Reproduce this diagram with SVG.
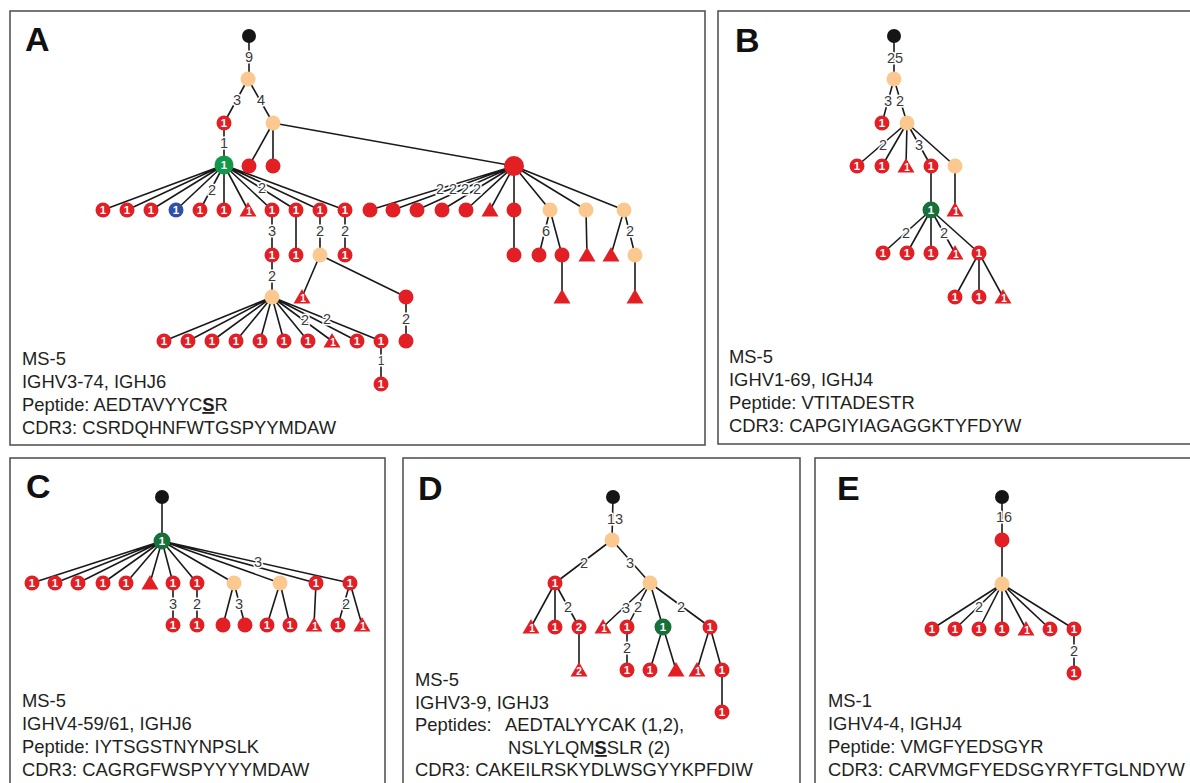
<svg xmlns="http://www.w3.org/2000/svg" xmlns:xlink="http://www.w3.org/1999/xlink" width="1190" height="783" viewBox="0 0 1190 783">
<style>
.frame{fill:none;stroke:#555;stroke-width:1.6}
.e{stroke:#1a1a1a;stroke-width:1.6;fill:none}
.r{fill:#e31f26}
.b{fill:#fbc98f}
.g{fill:#13984a}
.gd{fill:#17703a}
.k{fill:#151515}
.bl{fill:#2f4fa8}
.n{font-family:"Liberation Sans",Arial,sans-serif;font-weight:bold;font-size:11.5px;fill:#fff;text-anchor:middle}
.nt{font-family:"Liberation Sans",Arial,sans-serif;font-weight:bold;font-size:10px;fill:#fff;text-anchor:middle}
.l{font-family:"Liberation Sans",Arial,sans-serif;font-size:14.5px;fill:#3a3a3a;text-anchor:middle;stroke:#fff;stroke-width:3;paint-order:stroke;stroke-linejoin:round}
.t{font-family:"Liberation Sans",Arial,sans-serif;font-size:18.4px;fill:#231f20}
.p{font-family:"Liberation Sans",Arial,sans-serif;font-size:34px;font-weight:bold;fill:#111}
.u{font-weight:bold;text-decoration:underline}
</style>
<defs>
<path id="tri" d="M0,-8 L8.5,6.5 L-8.5,6.5 Z"/>
</defs>
<rect width="1190" height="783" fill="#fff"/>
<g id="frames">
<rect class="frame" x="10" y="11" width="695" height="434"/>
<rect class="frame" x="718" y="11" width="480" height="433"/>
<rect class="frame" x="10" y="458" width="375" height="340"/>
<rect class="frame" x="403" y="458" width="397" height="340"/>
<rect class="frame" x="815" y="458" width="380" height="340"/>
</g>
<g id="connectors">
<!-- A -->
<path class="e" d="M249,36V79 M248,79L224,123 M248,79L273,123 M224,123V165 M273,123L249,166 M273,123V166 M273,123L514,166"/>
<path class="e" d="M224,165L103,210 M224,165L127,210 M224,165L151,210 M224,165L176,210 M224,165L200,210 M224,165V210 M224,165L248,210 M224,165L272,210 M224,165L296,210 M224,165L320,210 M224,165L345,210"/>
<path class="e" d="M272,210V297 M296,210V255 M320,210V255 M345,210V255 M320,255L302,297 M320,255L406,297 M406,297V341 M381,341V384"/>
<path class="e" d="M272,297L164,341 M272,297L188,341 M272,297L212,341 M272,297L236,341 M272,297L260,341 M272,297L284,341 M272,297L308,341 M272,297L332,341 M272,297L357,341 M272,297L381,341"/>
<path class="e" d="M514,166L370,210 M514,166L393,210 M514,166L417,210 M514,166L442,210 M514,166L466,210 M514,166L490,210 M514,166V255 M514,166L550,210 M514,166L586,210 M514,166L624,210"/>
<path class="e" d="M550,210L539,255 M550,210L562,255 M562,255V297 M586,210L587,255 M624,210L611,255 M624,210L635,255 M635,255V297"/>
<!-- B -->
<path class="e" d="M894,36V79 M894,79L882,123 M894,79L907,123 M907,123L857,166 M907,123L882,166 M907,123L906,166 M907,123L931,166 M907,123L955,166 M931,166V210 M955,166V210"/>
<path class="e" d="M931,210L883,253 M931,210L907,253 M931,210V253 M931,210L955,253 M931,210L979,253 M979,253L955,297 M979,253V297 M979,253L1003,297"/>
<!-- C -->
<path class="e" d="M162,497V541 M162,541L32,583 M162,541L55,583 M162,541L78,583 M162,541L103,583 M162,541L126,583 M162,541L150,583 M162,541L173,583 M162,541L197,583 M162,541L234,583 M162,541L280,583 M162,541L316,583 M162,541L350,583"/>
<path class="e" d="M173,583V625 M197,583V625 M234,583L223,625 M234,583L245,625 M280,583L267,625 M280,583L290,625 M316,583L314,625 M350,583L338,625 M350,583L362,625"/>
<!-- D -->
<path class="e" d="M613,497L612,540 M612,540L555,583 M612,540L650,583 M555,583L531,627 M555,583V627 M555,583L579,627 M579,627V670 M650,583L603,627 M650,583L627,627 M650,583L663,627 M650,583L710,627 M627,627V670 M663,627L650,670 M663,627L676,670 M710,627L697,670 M710,627L722,670 M722,670V712"/>
<!-- E -->
<path class="e" d="M1002,497V584 M1002,584L932,629 M1002,584L955,629 M1002,584L979,629 M1002,584V629 M1002,584L1026,629 M1002,584L1050,629 M1002,584L1074,629 M1074,629V673"/>
</g>
<g id="edge-labels">
<text class="l" x="249" y="62">9</text>
<text class="l" x="237" y="105">3</text>
<text class="l" x="261" y="105">4</text>
<text class="l" x="224" y="148">1</text>
<text class="l" x="212" y="195">2</text>
<text class="l" x="262" y="193">2</text>
<text class="l" x="272" y="236">3</text>
<text class="l" x="320" y="236">2</text>
<text class="l" x="345" y="236">2</text>
<text class="l" x="272" y="281">2</text>
<text class="l" x="305" y="325">2</text>
<text class="l" x="327" y="324">2</text>
<text class="l" x="406" y="324">2</text>
<text class="l" x="381" y="365" style="font-size:12px">1</text>
<text class="l" x="440" y="194">2</text>
<text class="l" x="453" y="194">2</text>
<text class="l" x="465" y="194">2</text>
<text class="l" x="477" y="194">2</text>
<text class="l" x="546" y="236">6</text>
<text class="l" x="630" y="236">2</text>
<text class="l" x="895" y="63">25</text>
<text class="l" x="888" y="106">3</text>
<text class="l" x="900" y="106">2</text>
<text class="l" x="883" y="150">2</text>
<text class="l" x="919" y="150">3</text>
<text class="l" x="906" y="238">2</text>
<text class="l" x="944" y="238">2</text>
<text class="l" x="258" y="567">3</text>
<text class="l" x="173" y="609">3</text>
<text class="l" x="197" y="609">2</text>
<text class="l" x="239" y="609">3</text>
<text class="l" x="346" y="609">2</text>
<text class="l" x="615" y="524">13</text>
<text class="l" x="584" y="568">2</text>
<text class="l" x="630" y="568">3</text>
<text class="l" x="568" y="612">2</text>
<text class="l" x="626" y="613">3</text>
<text class="l" x="638" y="612">2</text>
<text class="l" x="681" y="612">2</text>
<text class="l" x="627" y="653">2</text>
<text class="l" x="1004" y="522">16</text>
<text class="l" x="979" y="612">2</text>
<text class="l" x="1074" y="656">2</text>
</g>
<!-- Panel A nodes -->
<g id="panel-A">
<text class="p" x="25" y="51">A</text>
<g id="a-root"><circle class="k" cx="249" cy="36" r="7"/></g>
<g id="a-n1"><circle class="b" cx="248" cy="79" r="7.5"/></g>
<g id="a-n2"><circle class="r" cx="224" cy="123" r="7.5"/><text class="n" x="224" y="127">1</text></g>
<g id="a-n3"><circle class="b" cx="273" cy="123" r="7.5"/></g>
<g id="a-n4"><circle class="g" cx="224" cy="165" r="9.5"/><text class="n" x="224" y="169">1</text></g>
<g id="a-n5"><circle class="r" cx="249" cy="166" r="7.5"/></g>
<g id="a-n6"><circle class="r" cx="273" cy="166" r="7.5"/></g>
<g id="a-n7"><circle class="r" cx="514" cy="166" r="10"/></g>
<g id="a-r1"><circle class="r" cx="103" cy="210" r="7.5"/><text class="n" x="103" y="214">1</text></g>
<g id="a-r2"><circle class="r" cx="127" cy="210" r="7.5"/><text class="n" x="127" y="214">1</text></g>
<g id="a-r3"><circle class="r" cx="151" cy="210" r="7.5"/><text class="n" x="151" y="214">1</text></g>
<g id="a-r4"><circle class="bl" cx="176" cy="210" r="7.5"/><text class="n" x="176" y="214">1</text></g>
<g id="a-r5"><circle class="r" cx="200" cy="210" r="7.5"/><text class="n" x="200" y="214">1</text></g>
<g id="a-r6"><circle class="r" cx="224" cy="210" r="7.5"/><text class="n" x="224" y="214">1</text></g>
<g id="a-r7"><use href="#tri" class="r" x="248" y="210"/><text class="nt" x="249" y="215">1</text></g>
<g id="a-r8"><circle class="r" cx="272" cy="210" r="7.5"/><text class="n" x="272" y="214">1</text></g>
<g id="a-r9"><circle class="r" cx="296" cy="210" r="7.5"/><text class="n" x="296" y="214">1</text></g>
<g id="a-r10"><circle class="r" cx="320" cy="210" r="7.5"/><text class="n" x="320" y="214">1</text></g>
<g id="a-r11"><circle class="r" cx="345" cy="210" r="7.5"/><text class="n" x="345" y="214">1</text></g>
<g id="a-s1"><circle class="r" cx="370" cy="210" r="7.5"/></g>
<g id="a-s2"><circle class="r" cx="393" cy="210" r="7.5"/></g>
<g id="a-s3"><circle class="r" cx="417" cy="210" r="7.5"/></g>
<g id="a-s4"><circle class="r" cx="442" cy="210" r="7.5"/></g>
<g id="a-s5"><circle class="r" cx="466" cy="210" r="7.5"/></g>
<g id="a-s6"><use href="#tri" class="r" x="490" y="210"/></g>
<g id="a-s7"><circle class="r" cx="514" cy="210" r="7.5"/></g>
<g id="a-s8"><circle class="b" cx="550" cy="210" r="7.5"/></g>
<g id="a-s9"><circle class="b" cx="586" cy="210" r="7.5"/></g>
<g id="a-s10"><circle class="b" cx="624" cy="210" r="7.5"/></g>
<g id="a-q1"><circle class="r" cx="272" cy="255" r="7.5"/><text class="n" x="272" y="259">1</text></g>
<g id="a-q2"><circle class="r" cx="296" cy="255" r="7.5"/><text class="n" x="296" y="259">1</text></g>
<g id="a-q3"><circle class="b" cx="320" cy="255" r="7.5"/></g>
<g id="a-q4"><circle class="r" cx="345" cy="255" r="7.5"/><text class="n" x="345" y="259">1</text></g>
<g id="a-q5"><circle class="r" cx="514" cy="255" r="7.5"/></g>
<g id="a-q6"><circle class="r" cx="539" cy="255" r="7.5"/></g>
<g id="a-q7"><circle class="r" cx="562" cy="255" r="7.5"/></g>
<g id="a-q8"><use href="#tri" class="r" x="587" y="255"/></g>
<g id="a-q9"><use href="#tri" class="r" x="611" y="255"/></g>
<g id="a-q10"><circle class="b" cx="635" cy="255" r="7.5"/></g>
<g id="a-w1"><circle class="b" cx="272" cy="297" r="7.5"/></g>
<g id="a-w2"><use href="#tri" class="r" x="302" y="297"/><text class="nt" x="303" y="302">1</text></g>
<g id="a-w3"><circle class="r" cx="406" cy="297" r="7.5"/></g>
<g id="a-w4"><use href="#tri" class="r" x="562" y="297"/></g>
<g id="a-w5"><use href="#tri" class="r" x="635" y="297"/></g>
<g id="a-v1"><circle class="r" cx="164" cy="341" r="7.5"/><text class="n" x="164" y="345">1</text></g>
<g id="a-v2"><circle class="r" cx="188" cy="341" r="7.5"/><text class="n" x="188" y="345">1</text></g>
<g id="a-v3"><circle class="r" cx="212" cy="341" r="7.5"/><text class="n" x="212" y="345">1</text></g>
<g id="a-v4"><circle class="r" cx="236" cy="341" r="7.5"/><text class="n" x="236" y="345">1</text></g>
<g id="a-v5"><circle class="r" cx="260" cy="341" r="7.5"/><text class="n" x="260" y="345">1</text></g>
<g id="a-v6"><circle class="r" cx="284" cy="341" r="7.5"/><text class="n" x="284" y="345">1</text></g>
<g id="a-v7"><circle class="r" cx="308" cy="341" r="7.5"/><text class="n" x="308" y="345">1</text></g>
<g id="a-v8"><use href="#tri" class="r" x="332" y="341"/><text class="nt" x="333" y="346">1</text></g>
<g id="a-v9"><circle class="r" cx="357" cy="341" r="7.5"/><text class="n" x="357" y="345">1</text></g>
<g id="a-v10"><circle class="r" cx="381" cy="341" r="7.5"/><text class="n" x="381" y="345">1</text></g>
<g id="a-v11"><circle class="r" cx="406" cy="341" r="7.5"/></g>
<g id="a-x1"><circle class="r" cx="381" cy="384" r="7.5"/><text class="n" x="381" y="388">1</text></g>
<text class="t" x="22" y="365">MS-5</text>
<text class="t" x="22" y="388">IGHV3-74, IGHJ6</text>
<text class="t" x="22" y="411">Peptide: AEDTAVYYC<tspan class="u">S</tspan>R</text>
<text class="t" x="22" y="434">CDR3: CSRDQHNFWTGSPYYMDAW</text>
</g>
<!-- Panel B -->
<g id="panel-B">
<text class="p" x="735" y="52">B</text>
<g id="b-root"><circle class="k" cx="894" cy="36" r="7"/></g>
<g id="b-n1"><circle class="b" cx="894" cy="79" r="7.5"/></g>
<g id="b-n2"><circle class="r" cx="882" cy="123" r="7.5"/><text class="n" x="882" y="127">1</text></g>
<g id="b-n3"><circle class="b" cx="907" cy="123" r="7.5"/></g>
<g id="b-r1"><circle class="r" cx="857" cy="166" r="7.5"/><text class="n" x="857" y="170">1</text></g>
<g id="b-r2"><circle class="r" cx="882" cy="166" r="7.5"/><text class="n" x="882" y="170">1</text></g>
<g id="b-r3"><use href="#tri" class="r" x="906" y="166"/><text class="nt" x="907" y="171">1</text></g>
<g id="b-r4"><circle class="r" cx="931" cy="166" r="7.5"/><text class="n" x="931" y="170">1</text></g>
<g id="b-r5"><circle class="b" cx="955" cy="166" r="7.5"/></g>
<g id="b-g"><circle class="gd" cx="931" cy="210" r="8.5"/><text class="n" x="931" y="214">1</text></g>
<g id="b-t1"><use href="#tri" class="r" x="955" y="210"/><text class="nt" x="956" y="215">1</text></g>
<g id="b-q1"><circle class="r" cx="883" cy="253" r="7.5"/><text class="n" x="883" y="257">1</text></g>
<g id="b-q2"><circle class="r" cx="907" cy="253" r="7.5"/><text class="n" x="907" y="257">1</text></g>
<g id="b-q3"><circle class="r" cx="931" cy="253" r="7.5"/><text class="n" x="931" y="257">1</text></g>
<g id="b-q4"><use href="#tri" class="r" x="955" y="253"/><text class="nt" x="956" y="258">1</text></g>
<g id="b-q5"><circle class="r" cx="979" cy="253" r="7.5"/><text class="n" x="979" y="257">1</text></g>
<g id="b-w1"><circle class="r" cx="955" cy="297" r="7.5"/><text class="n" x="955" y="301">1</text></g>
<g id="b-w2"><circle class="r" cx="979" cy="297" r="7.5"/><text class="n" x="979" y="301">1</text></g>
<g id="b-w3"><use href="#tri" class="r" x="1003" y="297"/><text class="nt" x="1004" y="302">1</text></g>
<text class="t" x="729" y="363">MS-5</text>
<text class="t" x="729" y="386">IGHV1-69, IGHJ4</text>
<text class="t" x="729" y="409">Peptide: VTITADESTR</text>
<text class="t" x="729" y="432">CDR3: CAPGIYIAGAGGKTYFDYW</text>
</g>
<!-- Panel C -->
<g id="panel-C">
<text class="p" x="26" y="498">C</text>
<g id="c-root"><circle class="k" cx="162" cy="497" r="7"/></g>
<g id="c-g"><circle class="gd" cx="162" cy="541" r="8.5"/><text class="n" x="162" y="545">1</text></g>
<g id="c-r1"><circle class="r" cx="32" cy="583" r="7.5"/><text class="n" x="32" y="587">1</text></g>
<g id="c-r2"><circle class="r" cx="55" cy="583" r="7.5"/><text class="n" x="55" y="587">1</text></g>
<g id="c-r3"><circle class="r" cx="78" cy="583" r="7.5"/><text class="n" x="78" y="587">1</text></g>
<g id="c-r4"><circle class="r" cx="103" cy="583" r="7.5"/><text class="n" x="103" y="587">1</text></g>
<g id="c-r5"><circle class="r" cx="126" cy="583" r="7.5"/><text class="n" x="126" y="587">1</text></g>
<g id="c-r6"><use href="#tri" class="r" x="150" y="583"/></g>
<g id="c-r7"><circle class="r" cx="173" cy="583" r="7.5"/><text class="n" x="173" y="587">1</text></g>
<g id="c-r8"><circle class="r" cx="197" cy="583" r="7.5"/><text class="n" x="197" y="587">1</text></g>
<g id="c-r9"><circle class="b" cx="234" cy="583" r="7.5"/></g>
<g id="c-r10"><circle class="b" cx="280" cy="583" r="7.5"/></g>
<g id="c-r11"><circle class="r" cx="316" cy="583" r="7.5"/><text class="n" x="316" y="587">1</text></g>
<g id="c-r12"><circle class="r" cx="350" cy="583" r="7.5"/><text class="n" x="350" y="587">1</text></g>
<g id="c-q1"><circle class="r" cx="173" cy="625" r="7.5"/><text class="n" x="173" y="629">1</text></g>
<g id="c-q2"><circle class="r" cx="197" cy="625" r="7.5"/><text class="n" x="197" y="629">1</text></g>
<g id="c-q3"><circle class="r" cx="223" cy="625" r="7.5"/></g>
<g id="c-q4"><circle class="r" cx="245" cy="625" r="7.5"/></g>
<g id="c-q5"><circle class="r" cx="267" cy="625" r="7.5"/><text class="n" x="267" y="629">1</text></g>
<g id="c-q6"><circle class="r" cx="290" cy="625" r="7.5"/><text class="n" x="290" y="629">1</text></g>
<g id="c-q7"><use href="#tri" class="r" x="314" y="625"/><text class="nt" x="315" y="630">1</text></g>
<g id="c-q8"><circle class="r" cx="338" cy="625" r="7.5"/><text class="n" x="338" y="629">1</text></g>
<g id="c-q9"><use href="#tri" class="r" x="362" y="625"/><text class="nt" x="363" y="630">1</text></g>
<text class="t" x="22" y="707">MS-5</text>
<text class="t" x="22" y="730">IGHV4-59/61, IGHJ6</text>
<text class="t" x="22" y="753">Peptide: IYTSGSTNYNPSLK</text>
<text class="t" x="22" y="776">CDR3: CAGRGFWSPYYYYMDAW</text>
</g>
<!-- Panel D -->
<g id="panel-D">
<text class="p" x="418" y="500">D</text>
<g id="d-root"><circle class="k" cx="613" cy="497" r="7"/></g>
<g id="d-n1"><circle class="b" cx="612" cy="540" r="7.5"/></g>
<g id="d-n2"><circle class="r" cx="555" cy="583" r="7.5"/><text class="n" x="555" y="587">1</text></g>
<g id="d-n3"><circle class="b" cx="650" cy="583" r="7.5"/></g>
<g id="d-r1"><use href="#tri" class="r" x="531" y="627"/><text class="nt" x="532" y="632">1</text></g>
<g id="d-r2"><circle class="r" cx="555" cy="627" r="7.5"/><text class="n" x="555" y="631">1</text></g>
<g id="d-r3"><circle class="r" cx="579" cy="627" r="7.5"/><text class="n" x="579" y="631">2</text></g>
<g id="d-r4"><use href="#tri" class="r" x="603" y="627"/><text class="nt" x="604" y="632">1</text></g>
<g id="d-r5"><circle class="r" cx="627" cy="627" r="7.5"/><text class="n" x="627" y="631">1</text></g>
<g id="d-r6"><circle class="gd" cx="663" cy="627" r="8.5"/><text class="n" x="663" y="631">1</text></g>
<g id="d-r7"><circle class="r" cx="710" cy="627" r="7.5"/><text class="n" x="710" y="631">1</text></g>
<g id="d-q1"><use href="#tri" class="r" x="579" y="670"/><text class="nt" x="579" y="675">2</text></g>
<g id="d-q2"><circle class="r" cx="627" cy="670" r="7.5"/><text class="n" x="627" y="674">1</text></g>
<g id="d-q3"><circle class="r" cx="650" cy="670" r="7.5"/><text class="n" x="650" y="674">1</text></g>
<g id="d-q4"><use href="#tri" class="r" x="676" y="670"/></g>
<g id="d-q5"><use href="#tri" class="r" x="697" y="670"/><text class="nt" x="698" y="675">1</text></g>
<g id="d-q6"><circle class="r" cx="722" cy="670" r="7.5"/><text class="n" x="722" y="674">1</text></g>
<g id="d-w1"><circle class="r" cx="722" cy="712" r="7.5"/><text class="n" x="722" y="716">1</text></g>
<text class="t" x="415" y="686">MS-5</text>
<text class="t" x="415" y="709">IGHV3-9, IGHJ3</text>
<text class="t" x="415" y="731">Peptides:</text>
<text class="t" x="505" y="731">AEDTALYYCAK (1,2),</text>
<text class="t" x="508" y="754">NSLYLQM<tspan class="u">S</tspan>SLR (2)</text>
<text class="t" x="415" y="776">CDR3: CAKEILRSKYDLWSGYYKPFDIW</text>
</g>
<!-- Panel E -->
<g id="panel-E">
<text class="p" x="837" y="500">E</text>
<g id="e-root"><circle class="k" cx="1002" cy="497" r="7"/></g>
<g id="e-n1"><circle class="r" cx="1002" cy="540" r="7.5"/></g>
<g id="e-n2"><circle class="b" cx="1002" cy="584" r="7.5"/></g>
<g id="e-r1"><circle class="r" cx="932" cy="629" r="7.5"/><text class="n" x="932" y="633">1</text></g>
<g id="e-r2"><circle class="r" cx="955" cy="629" r="7.5"/><text class="n" x="955" y="633">1</text></g>
<g id="e-r3"><circle class="r" cx="979" cy="629" r="7.5"/><text class="n" x="979" y="633">1</text></g>
<g id="e-r4"><circle class="r" cx="1002" cy="629" r="7.5"/><text class="n" x="1002" y="633">1</text></g>
<g id="e-r5"><use href="#tri" class="r" x="1026" y="629"/><text class="nt" x="1027" y="634">1</text></g>
<g id="e-r6"><circle class="r" cx="1050" cy="629" r="7.5"/><text class="n" x="1050" y="633">1</text></g>
<g id="e-r7"><circle class="r" cx="1074" cy="629" r="7.5"/><text class="n" x="1074" y="633">1</text></g>
<g id="e-q1"><circle class="r" cx="1074" cy="673" r="7.5"/><text class="n" x="1074" y="677">1</text></g>
<text class="t" x="828" y="707">MS-1</text>
<text class="t" x="828" y="730">IGHV4-4, IGHJ4</text>
<text class="t" x="828" y="753">Peptide: VMGFYEDSGYR</text>
<text class="t" x="828" y="776">CDR3: CARVMGFYEDSGYRYFTGLNDYW</text>
</g>
</svg>
